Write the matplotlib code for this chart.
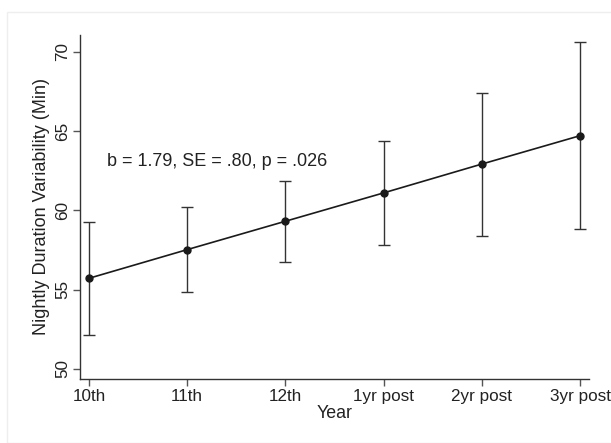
import matplotlib.pyplot as plt
import numpy as np

# Data
years = ['10th', '11th', '12th', '1yr post', '2yr post', '3yr post']
means = [55.72, 57.53, 59.32, 61.11, 62.93, 64.72]
ci_upper = [59.30, 60.19, 61.87, 64.41, 67.41, 70.61]
ci_lower = [52.15, 54.85, 56.77, 57.82, 58.42, 58.84]
y_ticks = [50, 55, 60, 65, 70]
stat_text = 'b = 1.79, SE = .80, p = .026'

plt.rcParams['font.family'] = ['Liberation Sans', 'DejaVu Sans']

fig = plt.figure(figsize=(6.11, 4.43), dpi=100)
ax = fig.add_axes([0.131, 0.1445, 0.833, 0.7765])

x = np.arange(len(years))
means = np.array(means)
yerr = [means - np.array(ci_lower), np.array(ci_upper) - means]

ax.errorbar(x, means, yerr=yerr, fmt='none', ecolor='#333333',
            elinewidth=1.0, capsize=4, capthick=1.0)
ax.plot(x, means, color='#1a1a1a', linewidth=1.2, marker='o',
        markersize=5, markerfacecolor='#1a1a1a', markeredgecolor='#1a1a1a')

ax.text(0.18, 63.06, stat_text, fontsize=13, color='#222222',
        ha='left', va='center')

ax.set_xlim(-0.09, 5.09)
ax.set_ylim(49.37, 71.07)
ax.set_xticks(x)
ax.set_xticklabels(years, fontsize=12.3, color='#222222')
ax.set_yticks(y_ticks)
ax.set_yticklabels([str(t) for t in y_ticks], fontsize=12.3, color='#222222',
                   rotation=90, va='center')
ax.set_xlabel('Year', fontsize=12.8, color='#222222', labelpad=1)
ax.set_ylabel('Nightly Duration Variability (Min)', fontsize=13,
              color='#222222', labelpad=4)

for side in ['top', 'right']:
    ax.spines[side].set_visible(False)
for side in ['left', 'bottom']:
    ax.spines[side].set_color('#333333')
    ax.spines[side].set_linewidth(1.0)
ax.tick_params(axis='both', direction='out', length=5, width=1.0,
               color='#555555', pad=2)

# faint frame around the figure
fig.patches.append(plt.Rectangle((0.012, 0.0), 0.99, 0.972, transform=fig.transFigure,
                                 fill=False, edgecolor='#eeeeee', linewidth=1.0))

plt.savefig('out.png', dpi=100)
